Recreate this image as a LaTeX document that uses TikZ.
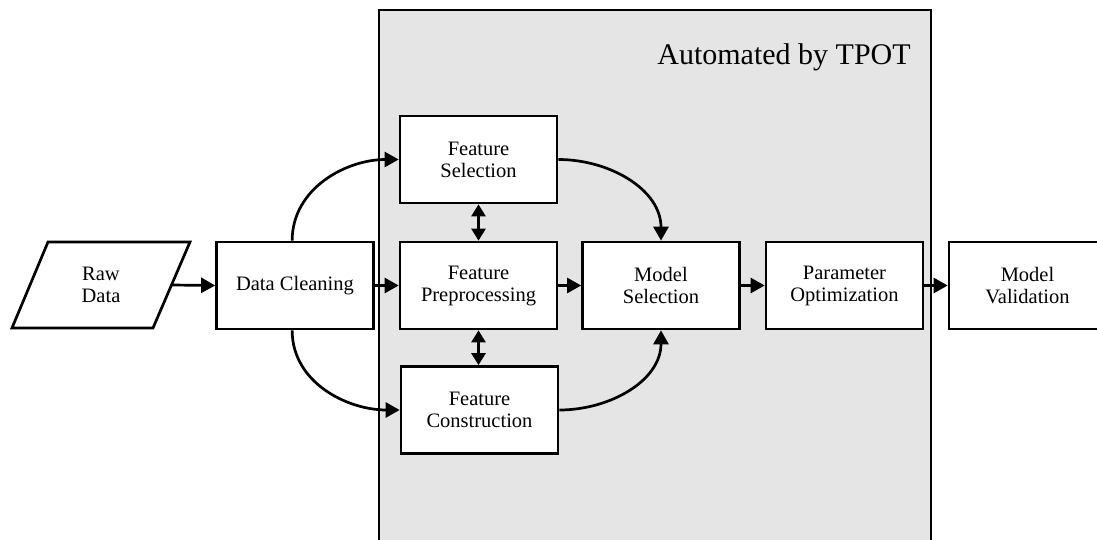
\documentclass[tikz,border=0pt]{standalone}
\usepackage{fontspec}
\setmainfont{Liberation Serif}
\usetikzlibrary{arrows.meta}
\begin{document}
\begin{tikzpicture}[x=1pt,y=-1pt,
  stepbox/.style={draw,fill=white,line width=2.7pt,minimum width=157pt,minimum height=87pt,inner sep=0pt,align=center,font=\fontsize{20.5}{22}\selectfont},
  arr/.style={line width=2.7pt,-{Triangle[length=14pt,width=15pt]}},
  darr/.style={line width=2.7pt,{Triangle[length=12pt,width=14pt]}-{Triangle[length=12pt,width=14pt]}}]
\useasboundingbox (0,0) rectangle (1097,540);
\begin{scope}
\clip (0,0) rectangle (1097,540);
\draw[line width=2.7pt,fill=black!10] (379,10) rectangle (931,560);
\end{scope}
\node[anchor=center,font=\fontsize{30}{32}\selectfont] (tpot) at (784,57) {Automated by TPOT};
% Raw data parallelogram
\draw[line width=2.7pt,fill=white] (48,242) -- (190,242) -- (153,328) -- (12,328) -- cycle;
\node[align=center,font=\fontsize{20.5}{22}\selectfont] (raw) at (101,285) {Raw\\Data};
\coordinate (rawout) at (171.5,285);
\node[stepbox] (dc) at (295,285.5) {Data Cleaning};
\node[stepbox] (fs) at (478.5,159.5) {Feature\\Selection};
\node[stepbox] (fp) at (478.5,285.5) {Feature\\Preprocessing};
\node[stepbox] (fc) at (479.5,410) {Feature\\Construction};
\node[stepbox] (ms) at (661,285.5) {Model\\Selection};
\node[stepbox] (po) at (844.5,285.5) {Parameter\\Optimization};
\node[stepbox] (mv) at (1027.5,285.5) {Model\\Validation};
\draw[arr] (rawout) -- (dc.west);
\draw[arr] (dc.east) -- (fp.west);
\draw[arr] (fp.east) -- (ms.west);
\draw[arr] (ms.east) -- (po.west);
\draw[arr] (po.east) -- (mv.west);
\draw[darr] (fs.south) -- (fp.north);
\draw[darr] (fp.south) -- (fc.north -| fp.south);
\draw[arr] (dc.north west) ++(77,0) coordinate (dcn) to[out=90,in=180] (fs.west);
\draw[arr] (dc.south west) ++(77,0) coordinate (dcs) to[out=-90,in=180] (fc.west);
\draw[arr] (fs.east) to[out=0,in=90] (ms.north);
\draw[arr] (fc.east) to[out=0,in=-90] (ms.south);
\end{tikzpicture}
\end{document}
